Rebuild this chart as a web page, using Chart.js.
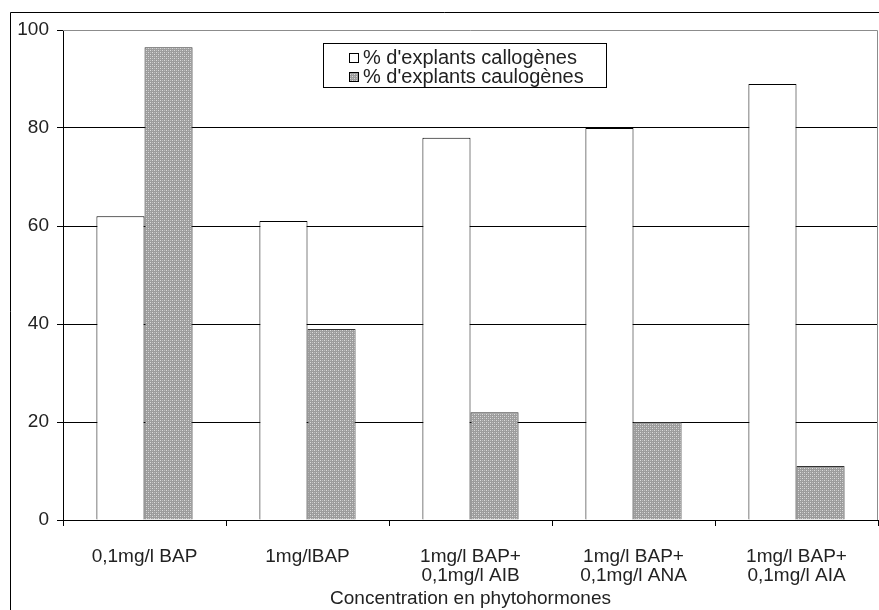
<!DOCTYPE html>
<html>
<head>
<meta charset="utf-8">
<script src="https://cdn.jsdelivr.net/npm/chart.js@4.4.0/dist/chart.umd.min.js"></script>
<style>
    html, body { margin: 0; padding: 0; background: #fff; }
    #wrap { width: 879px; height: 610px; position: relative; }
</style>
</head>
<body>
<div id="wrap"><canvas id="barChart"></canvas></div>
<script>
const categories = [
    "0,1mg/l BAP",
    "1mg/lBAP",
    ["1mg/l BAP+", "0,1mg/l AIB"],
    ["1mg/l BAP+", "0,1mg/l ANA"],
    ["1mg/l BAP+", "0,1mg/l AIA"]
];
const callogenes = [62, 61, 78, 80, 89];
const caulogenes = [96.5, 39, 22, 20, 11];
const seriesNames = ["% d'explants callogènes", "% d'explants caulogènes"];
const yTicks = [0, 20, 40, 60, 80, 100];
const axisTitle = "Concentration en phytohormones";

const FONT = "'Liberation Sans', Arial, sans-serif";
const ctx = document.getElementById("barChart").getContext("2d");

// dotted grey fill like the old excel pattern
function makePattern() {
    const c = document.createElement("canvas");
    c.width = 4;
    c.height = 4;
    const p = c.getContext("2d");
    p.fillStyle = "#9c9c9c";
    p.fillRect(0, 0, 4, 4);
    p.fillStyle = "#dcdcdc";
    p.fillRect(0, 0, 1, 1);
    p.fillRect(2, 2, 1, 1);
    p.fillStyle = "#bdbdbd";
    p.fillRect(2, 0, 1, 1);
    p.fillRect(0, 2, 1, 1);
    return ctx.createPattern(c, "repeat");
}
const greyPattern = makePattern();

// outer frame + gray top/right border of plot + boxed legend
const framePlugin = {
    id: "frame",
    beforeDraw(chart) {
        const c = chart.ctx;
        c.save();
        c.fillStyle = "#fff";
        c.fillRect(0, 0, chart.width, chart.height);
        c.strokeStyle = "#000";
        c.lineWidth = 1;
        c.beginPath();
        c.moveTo(10.5, chart.height);
        c.lineTo(10.5, 12.5);
        c.lineTo(chart.width, 12.5);
        c.stroke();
        c.restore();
    },
    afterDatasetsDraw(chart) {
        const c = chart.ctx;
        const a = chart.chartArea;
        c.save();
        c.strokeStyle = "#8c8c8c";
        c.lineWidth = 1;
        c.beginPath();
        c.moveTo(a.left, a.top + 0.5);
        c.lineTo(a.right - 0.5, a.top + 0.5);
        c.lineTo(a.right - 0.5, a.bottom);
        c.stroke();

        // legend
        const bx = 323.5, by = 43.5, bw = 283, bh = 44;
        c.fillStyle = "#fff";
        c.fillRect(bx, by, bw, bh);
        c.strokeStyle = "#000";
        c.strokeRect(bx, by, bw, bh);
        c.font = "20px " + FONT;
        c.textBaseline = "middle";
        chart.data.datasets.forEach((ds, i) => {
            const cy = 58 + i * 19;
            c.fillStyle = ds.backgroundColor;
            c.fillRect(349.5, cy - 4.5, 9, 9);
            c.strokeStyle = "#000";
            c.strokeRect(349.5, cy - 4.5, 9, 9);
            c.fillStyle = "#222";
            c.fillText(ds.label, 363, cy);
        });
        c.restore();
    }
};

new Chart(ctx, {
    type: "bar",
    data: {
        labels: categories,
        datasets: [
            {
                label: seriesNames[0],
                data: callogenes,
                backgroundColor: "#fff",
                borderColor: "#000",
                borderWidth: 1,
                categoryPercentage: 0.59,
                barPercentage: 1.0
            },
            {
                label: seriesNames[1],
                data: caulogenes,
                backgroundColor: greyPattern,
                borderColor: "#333",
                borderWidth: 1,
                categoryPercentage: 0.59,
                barPercentage: 1.0
            }
        ]
    },
    options: {
        responsive: true,
        maintainAspectRatio: false,
        animation: false,
        layout: { padding: { top: 30, right: 1, left: 0, bottom: 0 } },
        plugins: {
            legend: { display: false },
            tooltip: { enabled: false }
        },
        scales: {
            x: {
                offset: true,
                grid: {
                    offset: true,
                    drawOnChartArea: false,
                    drawTicks: true,
                    tickLength: 6,
                    color: "#000"
                },
                border: { color: "#000", width: 1 },
                ticks: {
                    color: "#222",
                    font: { family: FONT, size: 19, lineHeight: 1.0 },
                    padding: 21,
                    maxRotation: 0,
                    autoSkip: false
                },
                title: {
                    display: true,
                    text: axisTitle,
                    color: "#222",
                    font: { family: FONT, size: 19 },
                    padding: { top: 0, bottom: 0 }
                },
                afterFit(scale) { scale.height = 90; }
            },
            y: {
                min: 0,
                max: 100,
                afterBuildTicks(scale) {
                    scale.ticks = yTicks.map(v => ({ value: v }));
                },
                grid: {
                    color: ctx2 => ctx2.tick && ctx2.tick.value === 100 ? "rgba(0,0,0,0)" : "#000",
                    drawTicks: true,
                    tickLength: 6,
                    tickColor: "#000"
                },
                border: { color: "#000", width: 1 },
                ticks: {
                    color: "#222",
                    font: { family: FONT, size: 19 },
                    padding: 8
                },
                afterFit(scale) { scale.width = 63; }
            }
        }
    },
    plugins: [framePlugin]
});
</script>
</body>
</html>
